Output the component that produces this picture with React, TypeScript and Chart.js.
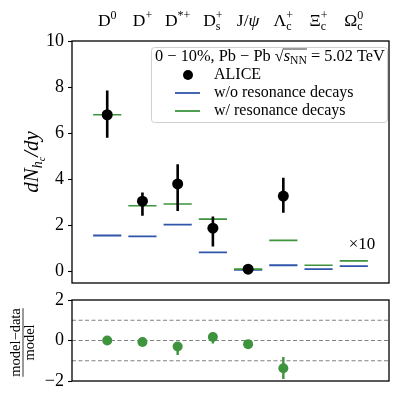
import React, { useEffect, useRef } from 'react';
import { Chart, registerables } from 'chart.js';
Chart.register(...registerables);

// ---------------- data ----------------
const labelBase = ['D', 'D', 'D', 'D', 'J/ψ', 'Λ', 'Ξ', 'Ω'];
const labelSup = ['0', '+', '*+', '+', '', '+', '+', '0'];
const labelSub = ['', '', '', 's', '', 'c', 'c', 'c'];

const aliceY = [6.8, 3.05, 3.8, 1.88, 0.1, 3.27, null, null];
const aliceLo = [5.8, 2.42, 2.62, 1.08, 0.05, 2.55, null, null];
const aliceHi = [7.85, 3.43, 4.65, 2.38, 0.15, 4.07, null, null];
const modelNoRes = [1.56, 1.52, 2.03, 0.83, 0.07, 0.27, 0.1, 0.23];
const modelRes = [6.8, 2.85, 2.93, 2.27, 0.1, 1.35, 0.27, 0.46];

const ratio = [0.0, -0.07, -0.3, 0.17, -0.18, -1.37, null, null];
const ratioLo = [-0.08, -0.15, -0.72, -0.15, -0.28, -1.9, null, null];
const ratioHi = [0.08, 0.02, -0.12, 0.33, -0.08, -0.82, null, null];

const mainTicks = [0, 2, 4, 6, 8, 10];
const ratioTicks = [-2, -1, 0, 1, 2];
const refLines = [-1, 0, 1];

const BLUE = '#2f55ab';
const GREEN = '#3d943d';
const SERIF = '"Liberation Serif", "DejaVu Serif", serif';

// ---------------- helpers ----------------
type Piece = { t: string; size: number; dy?: number; italic?: boolean; stack?: boolean; over?: boolean };

function fnt(p: Piece) {
  return `${p.italic ? 'italic ' : ''}${p.size}px ${SERIF}`;
}
function richWidth(ctx: CanvasRenderingContext2D, pieces: Piece[]) {
  let total = 0;
  let lastW = 0;
  for (const p of pieces) {
    ctx.font = fnt(p);
    const w = ctx.measureText(p.t).width;
    if (p.stack) {
      total += Math.max(0, w - lastW);
      lastW = Math.max(w, lastW);
    } else {
      total += w;
      lastW = w;
    }
  }
  return total;
}
function drawRich(ctx: CanvasRenderingContext2D, pieces: Piece[], x: number, y: number, align: 'left' | 'center') {
  const total = richWidth(ctx, pieces);
  let cx = align === 'center' ? x - total / 2 : x;
  let lastStart = cx;
  let lastW = 0;
  ctx.textAlign = 'left';
  ctx.textBaseline = 'alphabetic';
  for (const p of pieces) {
    ctx.font = fnt(p);
    const w = ctx.measureText(p.t).width;
    if (p.stack) {
      ctx.fillText(p.t, lastStart, y + (p.dy || 0));
      cx = lastStart + Math.max(w, lastW);
      lastW = Math.max(w, lastW);
    } else {
      ctx.fillText(p.t, cx, y + (p.dy || 0));
      if (p.over) {
        ctx.save();
        ctx.lineWidth = 0.8;
        ctx.beginPath();
        ctx.moveTo(cx, y - 12);
        ctx.lineTo(cx + w, y - 12);
        ctx.stroke();
        ctx.restore();
      }
      lastStart = cx;
      lastW = w;
      cx += w;
    }
  }
}

const segs = (vals: (number | null)[]) =>
  vals.flatMap((v, i) => (v == null ? [] : [{ x: i - 0.4, y: v }, { x: i + 0.4, y: v }, { x: i, y: null }]));
const bars = (lo: (number | null)[], hi: (number | null)[]) =>
  lo.flatMap((l, i) => (l == null ? [] : [{ x: i, y: l }, { x: i, y: hi[i] }, { x: i, y: null }]));
const pts = (vals: (number | null)[]) =>
  vals.flatMap((v, i) => (v == null ? [] : [{ x: i, y: v }]));

const boxPlugin = {
  id: 'box',
  afterDraw(chart: any) {
    const { ctx, chartArea: a } = chart;
    ctx.save();
    ctx.strokeStyle = '#000';
    ctx.lineWidth = 1.3;
    ctx.strokeRect(a.left, a.top, a.right - a.left, a.bottom - a.top);
    ctx.restore();
  },
};

const mainDeco = {
  id: 'mainDeco',
  afterDraw(chart: any) {
    const { ctx } = chart;
    const xs = chart.scales.x;
    const a = chart.chartArea;
    ctx.save();
    ctx.fillStyle = '#000';
    ctx.strokeStyle = '#000';
    // top category labels
    labelBase.forEach((b, i) => {
      const pieces: Piece[] = [{ t: b, size: 17.5, italic: false }];
      if (b === 'J/ψ') {
        pieces.length = 0;
        pieces.push({ t: 'J/', size: 17.5 }, { t: 'ψ', size: 17.5, italic: true });
      }
      if (labelSup[i]) pieces.push({ t: labelSup[i], size: 12, dy: -7 });
      if (labelSub[i]) pieces.push({ t: labelSub[i], size: 12, dy: 4, stack: !!labelSup[i] });
      drawRich(ctx, pieces, xs.getPixelForValue(i), 26, 'center');
    });
    // y title
    ctx.save();
    ctx.translate(31, (a.top + a.bottom) / 2);
    ctx.rotate(-Math.PI / 2);
    drawRich(
      ctx,
      [
        { t: 'dN', size: 21, italic: true },
        { t: 'h', size: 14, italic: true, dy: 4 },
        { t: 'c', size: 10, italic: true, dy: 7 },
        { t: '/dy', size: 21, italic: true },
      ],
      0,
      7,
      'center'
    );
    ctx.restore();
    // ×10
    ctx.font = `17px ${SERIF}`;
    ctx.textAlign = 'center';
    ctx.fillText('×10', 362, 249);
    // legend
    const L = 151, T = 47, R = 387, B = 122;
    ctx.save();
    ctx.fillStyle = 'rgba(255,255,255,0.85)';
    ctx.strokeStyle = '#d0d0d0';
    ctx.lineWidth = 1;
    ctx.beginPath();
    (ctx as any).roundRect(L + 0.5, T + 0.5, R - L, B - T, 3);
    ctx.fill();
    ctx.stroke();
    ctx.restore();
    ctx.fillStyle = '#000';
    const tp: Piece[] = [
      { t: '0 − 10%, Pb − Pb ', size: 14 },
      { t: '√', size: 14 },
      { t: 's', size: 14, italic: true, over: true },
      { t: 'NN', size: 10, dy: 3, over: true },
      { t: ' = 5.02 TeV', size: 14 },
    ];
    const k = 230 / richWidth(ctx, tp);
    drawRich(ctx, tp.map((p) => ({ ...p, size: p.size * k })), (L + R) / 2 + 1, 61, 'center');
    ctx.font = `16px ${SERIF}`;
    ctx.textAlign = 'left';
    ctx.textBaseline = 'middle';
    ctx.fillText('ALICE', 214, 75);
    ctx.fillText('w/o resonance decays', 214, 93);
    ctx.fillText('w/ resonance decays', 214, 111);
    ctx.beginPath();
    ctx.arc(188, 75, 5, 0, Math.PI * 2);
    ctx.fill();
    ctx.lineWidth = 1.8;
    ctx.strokeStyle = BLUE;
    ctx.beginPath();
    ctx.moveTo(175, 93);
    ctx.lineTo(200, 93);
    ctx.stroke();
    ctx.strokeStyle = GREEN;
    ctx.beginPath();
    ctx.moveTo(175, 111);
    ctx.lineTo(200, 111);
    ctx.stroke();
    ctx.restore();
  },
};

const ratioDeco = {
  id: 'ratioDeco',
  afterDraw(chart: any) {
    const { ctx } = chart;
    const a = chart.chartArea;
    ctx.save();
    ctx.fillStyle = '#000';
    ctx.strokeStyle = '#000';
    ctx.translate(23, (a.top + a.bottom) / 2 + 2);
    ctx.rotate(-Math.PI / 2);
    ctx.font = `14.5px ${SERIF}`;
    ctx.textAlign = 'center';
    ctx.textBaseline = 'alphabetic';
    const num = 'model−data';
    const w = ctx.measureText(num).width;
    ctx.fillText(num, 0, -3.5);
    ctx.fillText('model', 0, 11);
    ctx.lineWidth = 0.8;
    ctx.beginPath();
    ctx.moveTo(-w / 2, 0);
    ctx.lineTo(w / 2, 0);
    ctx.stroke();
    ctx.restore();
  },
};

function yScale(min: number, max: number, tickVals: number[], width: number) {
  return {
    type: 'linear',
    min,
    max,
    afterFit(s: any) {
      s.width = width;
      s.paddingTop = 0;
      s.paddingBottom = 0;
    },
    afterBuildTicks(s: any) {
      s.ticks = tickVals.map((v) => ({ value: v }));
    },
    border: { display: false },
    grid: { display: true, drawOnChartArea: false, drawTicks: true, tickLength: 4, color: '#000', tickWidth: 1.1 },
    ticks: {
      color: '#000',
      padding: 4,
      font: { family: SERIF, size: 18 },
      callback: (v: number) => (v < 0 ? '−' + Math.abs(v) : String(v)),
    },
  };
}

export default function App() {
  const c1 = useRef<HTMLCanvasElement>(null);
  const c2 = useRef<HTMLCanvasElement>(null);
  useEffect(() => {
    const main = new Chart(c1.current as HTMLCanvasElement, {
      type: 'line',
      data: {
        datasets: [
          { data: pts(aliceY) as any, showLine: false, pointRadius: 5.5, pointBackgroundColor: '#000', pointBorderColor: '#000', pointBorderWidth: 0, order: 0 },
          { data: bars(aliceLo, aliceHi) as any, borderColor: '#000', borderWidth: 2.6, pointRadius: 0, order: 1 },
          { data: segs(modelRes) as any, borderColor: GREEN, borderWidth: 1.6, pointRadius: 0, order: 2 },
          { data: segs(modelNoRes) as any, borderColor: BLUE, borderWidth: 1.8, pointRadius: 0, order: 3 },
        ],
      },
      options: {
        animation: false,
        responsive: false,
        layout: { padding: { left: 0, top: 41, right: 10, bottom: 12 } },
        plugins: { legend: { display: false }, tooltip: { enabled: false } },
        scales: {
          x: { type: 'linear', min: -1, max: 8, display: false },
          y: yScale(-0.5, 10, mainTicks, 72) as any,
        },
      },
      plugins: [boxPlugin, mainDeco],
    });
    const rat = new Chart(c2.current as HTMLCanvasElement, {
      type: 'line',
      data: {
        datasets: [
          { data: pts(ratio) as any, showLine: false, pointRadius: 5, pointBackgroundColor: GREEN, pointBorderColor: GREEN, pointBorderWidth: 0, order: 0 },
          { data: bars(ratioLo, ratioHi) as any, borderColor: GREEN, borderWidth: 2.4, pointRadius: 0, order: 1 },
          ...refLines.map((v) => ({
            data: [{ x: -1, y: v }, { x: 8, y: v }],
            borderColor: '#808080',
            borderWidth: 1,
            borderDash: [4, 2.5],
            pointRadius: 0,
            order: 5,
          })),
        ],
      },
      options: {
        animation: false,
        responsive: false,
        layout: { padding: { left: 0, top: 10, right: 10, bottom: 22 } },
        plugins: { legend: { display: false }, tooltip: { enabled: false } },
        scales: {
          x: { type: 'linear', min: -1, max: 8, display: false },
          y: yScale(-2, 2, ratioTicks, 72) as any,
        },
      },
      plugins: [boxPlugin, ratioDeco],
    });
    return () => {
      main.destroy();
      rat.destroy();
    };
  }, []);
  return (
    <div style={{ position: 'fixed', left: 0, top: 0, width: 399, height: 403, background: '#fff' }}>
      <canvas ref={c1} width={399} height={295} style={{ position: 'absolute', left: 0, top: 0, width: 399, height: 295 }} />
      <canvas ref={c2} width={399} height={113} style={{ position: 'absolute', left: 0, top: 290, width: 399, height: 113 }} />
    </div>
  );
}
